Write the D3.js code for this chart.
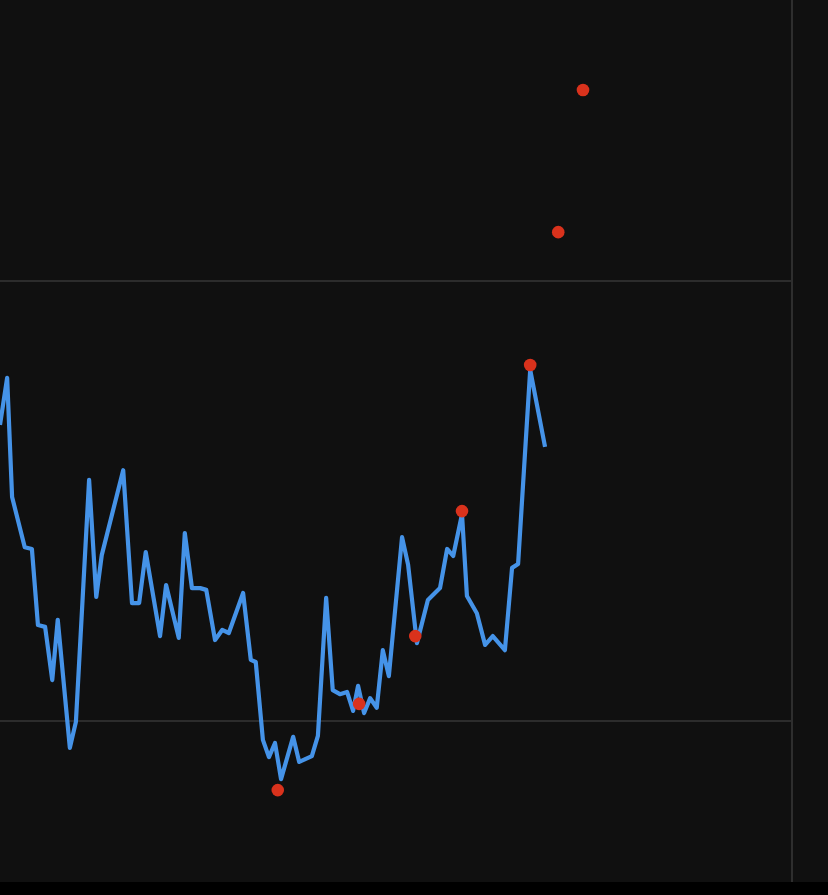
<!DOCTYPE html>
<html>
<head>
<meta charset="utf-8">
<script src="https://cdn.jsdelivr.net/npm/d3@7"></script>
<style>
  html, body { margin: 0; padding: 0; background: #000; }
  svg { display: block; }
</style>
</head>
<body>
<div id="chart"></div>
<script>
// series: day index and % change
const days = [0, 1.3, 2.2, 4.5, 5.8, 6.9, 8.2, 9.5, 10.5, 12.7, 13.8, 16.2, 17.5, 18.5, 22.4, 24, 25.3,
  26.5, 29.1, 30.2, 32.5, 33.6, 34.9, 36.4, 37.5, 39.1, 40.4, 41.6, 44.2, 45.6, 46.5, 47.8, 48.9, 50,
  51.1, 53.3, 54.4, 56.7, 57.8, 59.3, 60.5, 61.8, 63.1, 64.2, 65.1, 66.2, 67.3, 68.5, 69.6, 70.7,
  73.1, 74.2, 75.8, 77.8, 80, 81.3, 82.4, 84, 84.9, 86.7, 88.2, 89.6, 91.8, 93.1, 94.2, 96.4, 99.1]
const values = [6.73, 7.8, 5.09, 3.95, 3.91, 2.18, 2.14, 0.93, 2.3, -0.61, -0.02, 5.48, 2.82, 3.77, 5.7, 2.68, 2.68,
  3.84, 1.93, 3.09, 1.89, 4.27, 3.02, 3.02, 2.98, 1.84, 2.07, 2.0, 2.91, 1.39, 1.34, -0.43, -0.82, -0.5,
  -1.32, -0.36, -0.93, -0.8, -0.34, 2.8, 0.7, 0.61, 0.66, 0.23, 0.8, 0.18, 0.52, 0.3, 1.61, 1.02,
  4.18, 3.55, 1.77, 2.75, 3.02, 3.91, 3.75, 4.7, 2.84, 2.45, 1.73, 1.93, 1.61, 3.48, 3.57, 7.98, 6.23]

// marker points
const markerDays = [50.5, 65.3, 75.5, 84, 96.4, 101.5, 106]
const markerValues = [-1.57, 0.39, 1.93, 4.77, 8.09, 11.11, 14.34]

const gridValues = [0, 10]

const width = 828
const height = 895
const plotRight = 792
const plotBottom = 882

const svg = d3.select('#chart')
  .append('svg')
  .attr('width', width)
  .attr('height', height)

const soft = svg.append('defs')
  .append('filter')
  .attr('id', 'soft')
  .attr('x', '-10%').attr('y', '-10%')
  .attr('width', '120%').attr('height', '120%')
soft.append('feGaussianBlur').attr('stdDeviation', 0.7)

svg.append('rect')
  .attr('width', width)
  .attr('height', height)
  .attr('fill', '#000')

svg.append('rect')
  .attr('width', width)
  .attr('height', plotBottom)
  .attr('fill', '#101010')

const x = d3.scaleLinear().domain([0, 144]).range([0, plotRight])
const y = d3.scaleLinear().domain([0, 10]).range([721, 281])

svg.append('g')
  .selectAll('line')
  .data(gridValues)
  .join('line')
  .attr('x1', 0)
  .attr('x2', plotRight)
  .attr('y1', d => y(d))
  .attr('y2', d => y(d))
  .attr('stroke', '#2c2c2c')
  .attr('stroke-width', 2)

svg.append('line')
  .attr('x1', plotRight)
  .attr('x2', plotRight)
  .attr('y1', 0)
  .attr('y2', plotBottom)
  .attr('stroke', '#2e2e2e')
  .attr('stroke-width', 2)

const series = days.map((d, i) => ({ t: d, v: values[i] }))
const markers = markerDays.map((d, i) => ({ t: d, v: markerValues[i] }))

const line = d3.line()
  .x(d => x(d.t))
  .y(d => y(d.v))

svg.append('path')
  .datum(series)
  .attr('fill', 'none')
  .attr('stroke', '#4593e8')
  .attr('stroke-width', 4.2)
  .attr('stroke-linejoin', 'round')
  .attr('filter', 'url(#soft)')
  .attr('d', line)

svg.append('g')
  .attr('filter', 'url(#soft)')
  .selectAll('circle')
  .data(markers)
  .join('circle')
  .attr('cx', d => x(d.t))
  .attr('cy', d => y(d.v))
  .attr('r', 6.3)
  .attr('fill', '#d9301b')
</script>
</body>
</html>
